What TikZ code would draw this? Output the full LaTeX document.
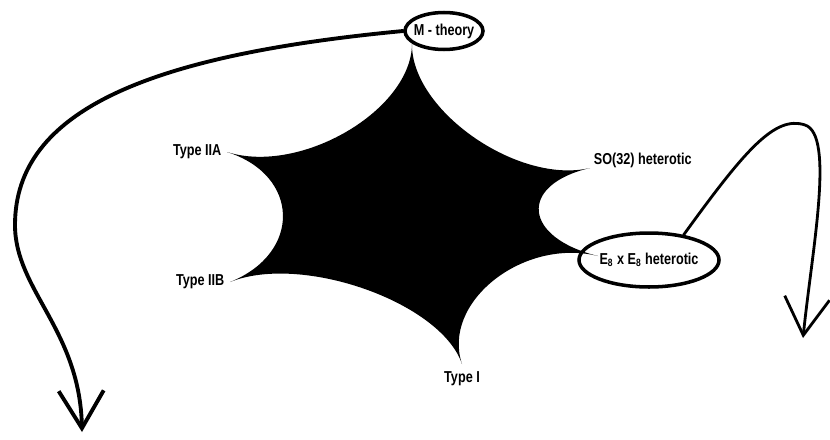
\documentclass[tikz,border=0pt]{standalone}
\usepackage{fontspec}
\newfontfamily\lblfont{Liberation Sans}[FakeStretch=0.8]
\usetikzlibrary{arrows.meta,positioning,calc,shapes.geometric}
\tikzset{
  lbl/.style={font=\lblfont\bfseries\fontsize{9}{10}\selectfont, inner sep=1pt},
  bubble/.style={ellipse, draw, line width=2pt, inner sep=0pt,
                 font=\lblfont\bfseries\fontsize{9}{10}\selectfont},
  sketch/.style={line width=2.2pt, line cap=round},
  vbarb/.style={-{Straight Barb[length=7.5mm, width=9mm]}},
}
\begin{document}
\begin{tikzpicture}[x=0.02cm, y=-0.02cm]
  \useasboundingbox (0,0) rectangle (830,439);
  % tips of the star
  \coordinate (ctr) at (410,210);
  \coordinate (tT) at (412,44);
  \coordinate (tS) at (590,168);
  \coordinate (tE) at (598,256);
  \coordinate (tB) at (462,364);
  \coordinate (tIIB) at (230,282);
  \coordinate (tIIA) at (227,152);
  \fill (tT) .. controls ($(tT)!.4!(ctr)$) and ($(tS)!.4!(ctr)$) .. (tS)
        .. controls ($(tS)!.4!(ctr)$) and ($(tE)!.4!(ctr)$) .. (tE)
        .. controls ($(tE)!.4!(ctr)$) and ($(tB)!.4!(ctr)$) .. (tB)
        .. controls ($(tB)!.4!(ctr)$) and ($(tIIB)!.4!(ctr)$) .. (tIIB)
        .. controls ($(tIIB)!.4!(ctr)$) and ($(tIIA)!.4!(ctr)$) .. (tIIA)
        .. controls ($(tIIA)!.4!(ctr)$) and ($(tT)!.4!(ctr)$) .. (tT) -- cycle;

  \node[lbl, left=2pt of tIIA] (lIIA) {Type IIA};
  \node[lbl, left=2pt of tIIB] (lIIB) {Type IIB};
  \node[lbl, below=3pt of tB] (lI) {Type I};
  \node[lbl, above right=-1pt and 1pt of tS] (lSO) {SO(32) heterotic};
  \node[bubble, inner xsep=-1.5pt, inner ysep=2.5pt, minimum height=0.74cm] (mth) at (444,31) {M - theory};
  \node[bubble, minimum width=2.8cm, minimum height=1.08cm] (e8) at (649,260) {E\textsubscript{8} x E\textsubscript{8} heterotic};

  % the two arrows
  \coordinate (mend) at (82,432);
  \coordinate (eend) at (803,338);
  \draw[sketch, vbarb] (mth.west) .. controls (150,55) and (15,110) .. (15,225)
        .. controls (15,290) and (80,330) .. (mend);
  \draw[sketch, line width=1.6pt, vbarb] (e8.36) .. controls (745,150) and (775,115) .. (805,125)
        .. controls (835,135) and (812,250) .. (eend);
\end{tikzpicture}
\end{document}
